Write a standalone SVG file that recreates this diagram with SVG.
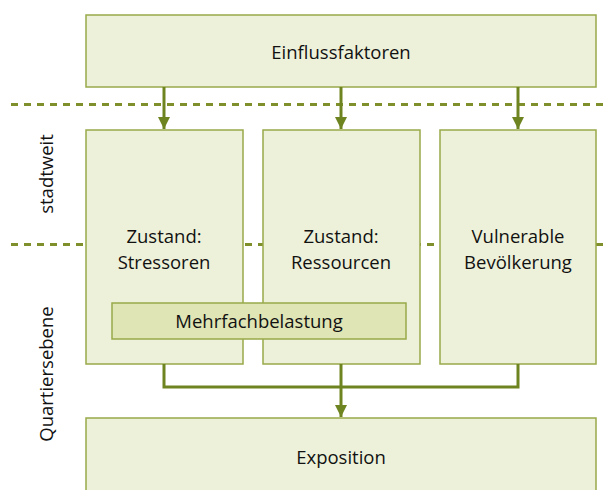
<svg xmlns="http://www.w3.org/2000/svg" width="608" height="490" viewBox="0 0 608 490">
<defs>
<style>
.box{fill:#eef1da;stroke:#98a94a;stroke-width:1.5}
.hl{fill:#dfe5b4;stroke:#98a94a;stroke-width:1.5}
.dash{stroke:#7e8f2c;stroke-width:3;stroke-dasharray:7 6;fill:none}
.con{stroke:#6e8420;stroke-width:3;fill:none}
text{font-family:"Open Sans","Noto Sans",sans-serif;font-size:18.5px;fill:#111;text-anchor:middle}
</style>
<marker id="ah" viewBox="0 0 12 16" refX="12" refY="6" markerWidth="12" markerHeight="16" markerUnits="userSpaceOnUse" orient="auto">
<path d="M0,0 L12,6 L0,12 Z" fill="#6e8420"/>
</marker>
</defs>
<rect width="608" height="490" fill="#ffffff"/>
<g id="levels">
<line class="dash" x1="11" y1="104.5" x2="608" y2="104.5"/>
<line class="dash" x1="11" y1="244.5" x2="608" y2="244.5"/>
<text transform="translate(53,174) rotate(-90)">stadtweit</text>
<text transform="translate(53,374) rotate(-90)">Quartiersebene</text>
</g>
<g id="einfluss">
<rect class="box" x="86" y="15" width="510" height="72"/>
<text x="341" y="59">Einflussfaktoren</text>
</g>
<g id="stressoren">
<rect class="box" x="86" y="130" width="157" height="234"/>
<text x="164" y="243">Zustand:</text>
<text x="164" y="269">Stressoren</text>
</g>
<g id="ressourcen">
<rect class="box" x="263" y="130" width="157" height="234"/>
<text x="341" y="243">Zustand:</text>
<text x="341" y="269">Ressourcen</text>
</g>
<g id="bevoelkerung">
<rect class="box" x="440" y="130" width="156" height="234"/>
<text x="518" y="243">Vulnerable</text>
<text x="518" y="269">Bevölkerung</text>
</g>
<g id="mehrfach">
<rect class="hl" x="112" y="303" width="294" height="36"/>
<text x="259" y="328">Mehrfachbelastung</text>
</g>
<g id="exposition">
<rect class="box" x="86" y="418" width="510" height="80"/>
<text x="341" y="464">Exposition</text>
</g>
<g id="connectors">
<line class="con" x1="164" y1="87" x2="164" y2="129" marker-end="url(#ah)"/>
<line class="con" x1="341" y1="87" x2="341" y2="129" marker-end="url(#ah)"/>
<line class="con" x1="518" y1="87" x2="518" y2="129" marker-end="url(#ah)"/>
<polyline class="con" points="164,364 164,387 518,387 518,364"/>
<line class="con" x1="341" y1="364" x2="341" y2="417" marker-end="url(#ah)"/>
</g>
</svg>
